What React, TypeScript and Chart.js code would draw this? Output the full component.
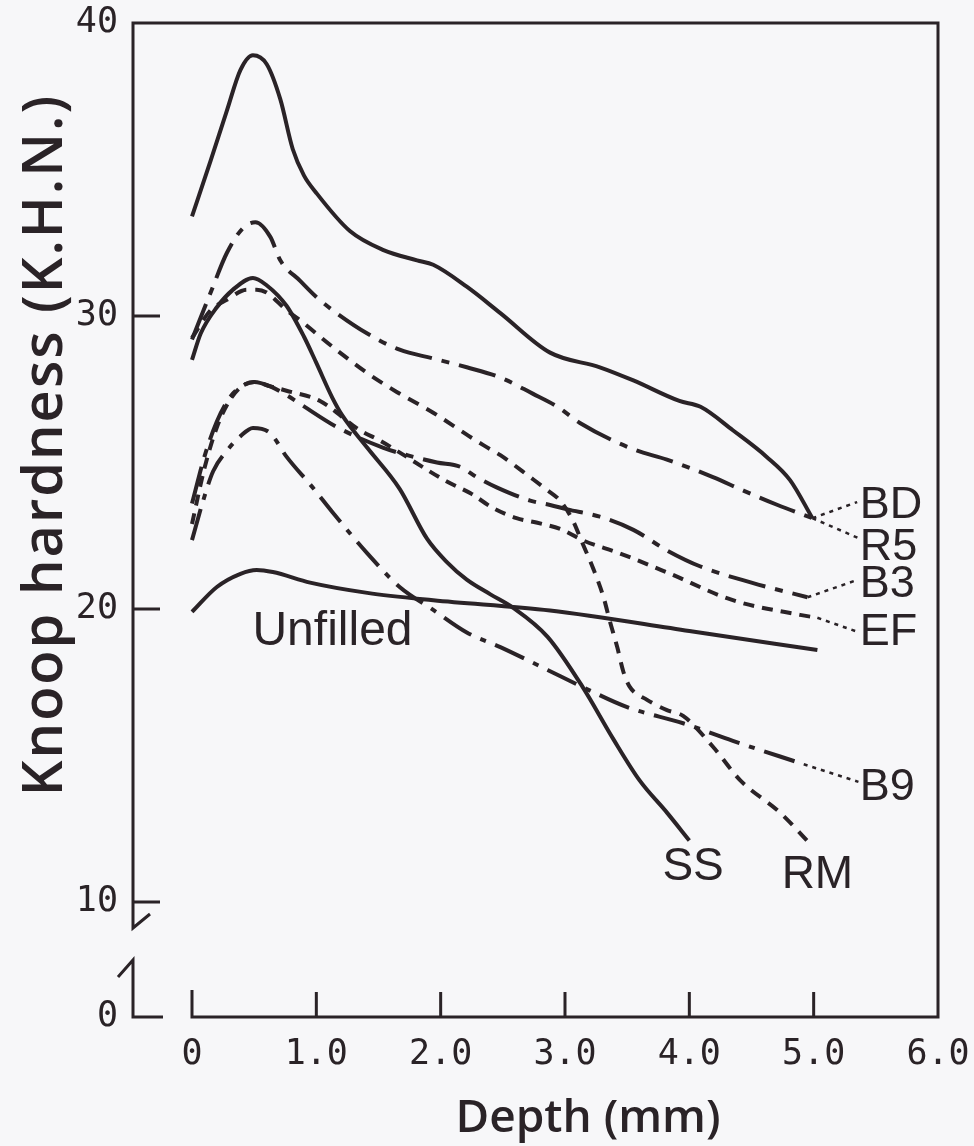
import React, { useEffect, useRef } from "react";
import { Chart, registerables } from "chart.js";

Chart.register(...registerables);

const INK = "#2a2327";
const PAPER = "#f7f7f9";

// Knoop hardness (K.H.N.) against depth (mm) for each material
const bdDepth = [0, 0.15, 0.28, 0.39, 0.49, 0.6, 0.71, 0.81, 0.9, 1.0, 1.27, 1.54, 1.81, 1.94, 2.21, 2.48, 2.88, 3.28, 3.55, 3.92, 4.09, 4.35, 4.62, 4.81, 4.99];
const bdKhn = [33.4, 35.3, 37.0, 38.4, 38.9, 38.6, 37.4, 35.7, 34.8, 34.2, 32.9, 32.25, 31.9, 31.75, 31.0, 30.1, 28.75, 28.25, 27.8, 27.1, 26.9, 26.1, 25.2, 24.4, 23.1];

const r5Depth = [0, 0.15, 0.28, 0.41, 0.51, 0.63, 0.71, 0.87, 1.0, 1.13, 1.41, 1.67, 1.94, 2.21, 2.48, 2.74, 2.94, 3.12, 3.55, 3.82, 4.19, 4.43, 4.71, 4.99];
const r5Khn = [29.2, 30.8, 32.15, 33.0, 33.2, 32.7, 31.9, 31.2, 30.65, 30.2, 29.4, 28.85, 28.55, 28.25, 27.9, 27.35, 26.9, 26.35, 25.45, 25.1, 24.5, 24.05, 23.55, 23.1];

const rmDepth = [0, 0.15, 0.28, 0.44, 0.52, 0.6, 0.76, 0.87, 1.13, 1.41, 1.65, 1.94, 2.21, 2.34, 2.48, 2.72, 2.86, 2.96, 3.06, 3.14, 3.23, 3.31, 3.36, 3.42, 3.47, 3.52, 3.66, 3.82, 3.95, 4.19, 4.41, 4.73, 4.99];
const rmKhn = [29.25, 30.2, 30.55, 30.9, 30.9, 30.8, 30.2, 29.85, 28.95, 28.05, 27.4, 26.7, 25.95, 25.6, 25.25, 24.5, 24.05, 23.7, 23.05, 22.25, 21.35, 20.4, 19.6, 18.7, 17.85, 17.35, 16.9, 16.55, 16.35, 15.3, 14.15, 13.05, 11.9];

const ssDepth = [0, 0.07, 0.2, 0.33, 0.49, 0.6, 0.76, 0.9, 1.0, 1.13, 1.21, 1.41, 1.67, 1.89, 2.05, 2.21, 2.4, 2.58, 2.86, 3.14, 3.39, 3.6, 3.82, 4.0];
const ssKhn = [28.5, 29.4, 30.3, 30.9, 31.3, 31.05, 30.35, 29.3, 28.4, 27.2, 26.6, 25.5, 24.1, 22.4, 21.6, 21.0, 20.5, 20.05, 19.05, 17.35, 15.55, 14.15, 13.05, 12.1];

const b3Depth = [0, 0.1, 0.2, 0.3, 0.4, 0.5, 0.63, 0.76, 0.87, 1.17, 1.54, 1.73, 1.97, 2.16, 2.29, 2.45, 2.72, 2.88, 3.02, 3.28, 3.55, 3.82, 4.09, 4.5, 4.95];
const b3Khn = [23.6, 25.2, 26.4, 27.2, 27.6, 27.75, 27.6, 27.3, 27.0, 26.2, 25.5, 25.25, 25.0, 24.85, 24.5, 24.15, 23.7, 23.55, 23.4, 23.15, 22.7, 22.0, 21.45, 20.9, 20.4];

const efDepth = [0, 0.1, 0.2, 0.3, 0.4, 0.5, 0.63, 0.76, 1.03, 1.35, 1.51, 2.05, 2.24, 2.42, 2.61, 2.77, 2.98, 3.14, 3.44, 3.82, 4.35, 4.89, 5.03];
const efKhn = [22.9, 24.8, 26.2, 27.1, 27.6, 27.75, 27.6, 27.45, 27.1, 26.1, 25.75, 24.35, 23.95, 23.45, 23.1, 22.95, 22.7, 22.35, 21.9, 21.25, 20.3, 19.8, 19.7];

const b9Depth = [0, 0.09, 0.17, 0.29, 0.39, 0.49, 0.63, 0.76, 0.97, 1.13, 1.41, 1.67, 1.94, 2.21, 2.48, 2.86, 3.14, 3.5, 3.95, 4.35, 4.92];
const b9Khn = [22.35, 23.7, 24.7, 25.45, 25.9, 26.18, 26.0, 25.2, 24.15, 23.3, 21.9, 20.75, 19.97, 19.2, 18.7, 17.92, 17.34, 16.65, 16.1, 15.5, 14.7];

const unfilledDepth = [0, 0.2, 0.39, 0.52, 0.65, 0.95, 1.41, 1.94, 2.88, 4.0, 5.03];
const unfilledKhn = [19.9, 20.75, 21.2, 21.33, 21.26, 20.9, 20.55, 20.3, 19.95, 19.25, 18.6];

// dotted leaders from the end of a curve to its name
const leaderNames = ["BD", "R5", "B3", "EF", "B9"];
const leaderFrom = [[4.99, 23.1], [4.99, 23.1], [4.95, 20.4], [5.03, 19.7], [4.92, 14.7]];
const leaderTo = [[5.35, 23.65], [5.36, 22.42], [5.35, 20.99], [5.36, 19.21], [5.36, 14.1]];

// curve names: text, depth, hardness at the baseline, alignment, size
const curveNames: [string, number, number, CanvasTextAlign, number][] = [
  ["BD", 5.37, 23.1, "left", 45],
  ["R5", 5.37, 21.67, "left", 45],
  ["B3", 5.37, 20.41, "left", 45],
  ["EF", 5.37, 18.77, "left", 45],
  ["B9", 5.37, 13.48, "left", 45],
  ["SS", 4.03, 10.75, "center", 46],
  ["RM", 5.03, 10.48, "center", 46],
  ["Unfilled", 1.13, 18.77, "center", 48],
];

const xTickValues = [0, 1, 2, 3, 4, 5, 6];
const yTickValues = [10, 20, 30, 40];
const xInnerTicks = [1, 2, 3, 4, 5];
const yInnerTicks = [10, 20, 30];

const X_MIN = -0.4745;
const X_MAX = 6;
const Y_FOOT = 6.075; // foot of the broken hardness axis, labelled 0
const Y_MAX = 40;

const SOLID: number[] = [];
const DASH_DOT = [38, 10, 8, 10];
const FINE_DASH_DOT = [32, 10, 6, 10];
const SHORT_DASH = [12, 9];
const SHORT_DASH_B = [11, 8];

const pts = (xs: number[], ys: number[]) => xs.map((x, i) => ({ x, y: ys[i] }));

const curve = (xs: number[], ys: number[], dash: number[]) => ({
  data: pts(xs, ys),
  borderColor: INK,
  borderWidth: 4,
  borderDash: dash,
  pointRadius: 0,
  fill: false,
  cubicInterpolationMode: "monotone" as const,
});

const paperPlugin = {
  id: "paper",
  beforeDraw(chart: any) {
    const { ctx, width, height } = chart;
    ctx.save();
    ctx.fillStyle = PAPER;
    ctx.fillRect(0, 0, width, height);
    ctx.restore();
  },
};

const framePlugin = {
  id: "frame",
  afterDraw(chart: any) {
    const { ctx, chartArea } = chart;
    const xs = chart.scales.x;
    const ys = chart.scales.y;
    const { left, right, top, bottom } = chartArea;
    const y10 = ys.getPixelForValue(10);
    const x0 = xs.getPixelForValue(0);

    ctx.save();
    ctx.strokeStyle = INK;
    ctx.lineWidth = 3;
    ctx.lineCap = "butt";
    ctx.lineJoin = "miter";

    // box: upper part of the left axis, top and right sides, depth axis
    ctx.beginPath();
    ctx.moveTo(left + 17, y10 + 12);
    ctx.lineTo(left, y10 + 26);
    ctx.lineTo(left, top);
    ctx.lineTo(right, top);
    ctx.lineTo(right, bottom);
    ctx.lineTo(x0, bottom);
    ctx.lineTo(x0, bottom - 27);
    ctx.stroke();

    // short piece of the hardness axis below the break
    ctx.beginPath();
    ctx.moveTo(left - 15, y10 + 75);
    ctx.lineTo(left, y10 + 58);
    ctx.lineTo(left, bottom);
    ctx.lineTo(left + 30, bottom);
    ctx.stroke();

    // inward tick marks
    ctx.beginPath();
    for (const v of xInnerTicks) {
      const px = xs.getPixelForValue(v);
      ctx.moveTo(px, bottom);
      ctx.lineTo(px, bottom - 25);
    }
    for (const v of yInnerTicks) {
      const py = ys.getPixelForValue(v);
      ctx.moveTo(left, py);
      ctx.lineTo(left + 27, py);
    }
    ctx.stroke();

    // curve names
    ctx.fillStyle = INK;
    ctx.textBaseline = "alphabetic";
    for (const [text, dx, hy, align, size] of curveNames) {
      ctx.font = `${size}px "Liberation Sans", Arial, sans-serif`;
      ctx.textAlign = align;
      ctx.fillText(text, xs.getPixelForValue(dx), ys.getPixelForValue(hy));
    }

    // axis titles
    ctx.font = `600 46px "Open Sans", sans-serif`;
    ctx.textAlign = "center";
    ctx.fillText("Depth (mm)", 588, 1132);

    ctx.save();
    ctx.translate(62, 445);
    ctx.rotate(-Math.PI / 2);
    ctx.font = `600 56px "Open Sans", sans-serif`;
    (ctx as any).letterSpacing = "2px";
    ctx.fillText("Knoop hardness (K.H.N.)", 0, 0);
    ctx.restore();

    ctx.restore();
  },
};

export default function App() {
  const canvasRef = useRef<HTMLCanvasElement | null>(null);

  useEffect(() => {
    document.body.style.margin = "0";
    document.body.style.background = PAPER;
    const canvas = canvasRef.current;
    if (!canvas) return;

    const datasets: any[] = [
      curve(bdDepth, bdKhn, SOLID),
      curve(r5Depth, r5Khn, DASH_DOT),
      curve(rmDepth, rmKhn, SHORT_DASH),
      curve(ssDepth, ssKhn, SOLID),
      curve(b3Depth, b3Khn, DASH_DOT),
      curve(efDepth, efKhn, SHORT_DASH_B),
      curve(b9Depth, b9Khn, FINE_DASH_DOT),
      curve(unfilledDepth, unfilledKhn, SOLID),
      ...leaderNames.map((name, i) => ({
        label: name,
        data: [
          { x: leaderFrom[i][0], y: leaderFrom[i][1] },
          { x: leaderTo[i][0], y: leaderTo[i][1] },
        ],
        borderColor: INK,
        borderWidth: 2.5,
        borderDash: [4, 5],
        pointRadius: 0,
        tension: 0,
        fill: false,
      })),
    ];

    const tickFont = { family: '"DejaVu Sans Mono", monospace', size: 35 };

    const chart = new Chart(canvas, {
      type: "line",
      data: { datasets },
      options: {
        responsive: false,
        animation: false,
        events: [],
        layout: { padding: { top: 23, right: 36, left: 0, bottom: 0 } },
        plugins: { legend: { display: false }, tooltip: { enabled: false } },
        scales: {
          x: {
            type: "linear",
            min: X_MIN,
            max: X_MAX,
            grid: { display: false, drawTicks: true, tickLength: 17 },
            border: { display: false },
            afterBuildTicks: (s: any) => {
              s.ticks = xTickValues.map((value) => ({ value }));
            },
            afterFit: (s: any) => {
              s.height = 129;
            },
            ticks: {
              font: tickFont,
              color: INK,
              padding: 0,
              maxRotation: 0,
              autoSkip: false,
              callback: (v: any) => (Number(v) === 0 ? "0" : Number(v).toFixed(1)),
            },
          },
          y: {
            type: "linear",
            min: Y_FOOT,
            max: Y_MAX,
            grid: { display: false, drawTicks: true, tickLength: 15 },
            border: { display: false },
            afterBuildTicks: (s: any) => {
              s.ticks = [Y_FOOT, ...yTickValues].map((value) => ({ value }));
            },
            afterFit: (s: any) => {
              s.width = 133;
            },
            ticks: {
              font: tickFont,
              color: INK,
              padding: 0,
              autoSkip: false,
              callback: (v: any) => (Number(v) === Y_FOOT ? "0" : String(v)),
            },
          },
        },
      },
      plugins: [paperPlugin, framePlugin],
    } as any);

    return () => chart.destroy();
  }, []);

  return (
    <div style={{ width: 974, height: 1146 }}>
      <canvas ref={canvasRef} width={974} height={1146} style={{ display: "block" }} />
    </div>
  );
}
